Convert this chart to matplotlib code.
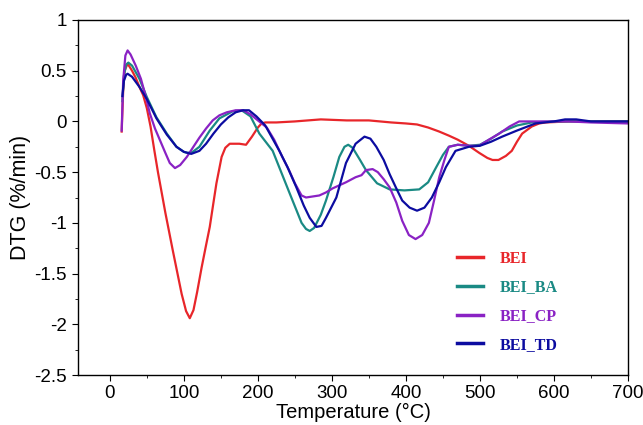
import matplotlib
matplotlib.use("Agg")
import matplotlib.pyplot as plt
from matplotlib.ticker import MultipleLocator

# ---- data ----
bei_T = [16, 18, 20, 24, 30, 35, 40, 45, 50, 55, 60, 65, 75, 85, 97, 103, 108, 113, 118, 124, 130, 135,
         140, 144, 151, 156, 162, 175, 184, 192, 200, 205, 210, 225, 250, 285, 320, 350, 380, 400, 415,
         430, 445, 458, 470, 485, 499, 510, 517, 525, 535, 543, 550, 557, 570, 580, 589, 620, 700]
bei_v = [-0.1, 0.3, 0.5, 0.57, 0.5, 0.43, 0.34, 0.26, 0.13, -0.05, -0.28, -0.5, -0.9, -1.27, -1.70, -1.87,
         -1.94, -1.86, -1.68, -1.44, -1.22, -1.04, -0.8, -0.61, -0.35, -0.26, -0.22, -0.22, -0.23, -0.15,
         -0.06, -0.02, -0.01, -0.01, 0.0, 0.02, 0.01, 0.01, -0.01, -0.02, -0.03, -0.06, -0.1, -0.14,
         -0.18, -0.24, -0.31, -0.36, -0.38, -0.38, -0.34, -0.29, -0.2, -0.12, -0.05, -0.02, -0.01, 0.0, 0.0]

ba_T = [17, 19, 22, 25, 30, 40, 50, 63, 77, 90, 100, 105, 112, 121, 135, 148, 166, 178, 190, 202, 220,
        243, 259, 265, 270, 276, 285, 292, 302, 310, 317, 322, 328, 338, 346, 361, 378, 398, 418, 430,
        441, 450, 458, 470, 485, 500, 515, 530, 550, 570, 600, 650, 700]
ba_v = [0.2, 0.45, 0.56, 0.58, 0.55, 0.42, 0.24, 0.04, -0.12, -0.25, -0.30, -0.31, -0.30, -0.25, -0.09,
        0.03, 0.10, 0.11, 0.05, -0.12, -0.29, -0.71, -1.0, -1.06, -1.08, -1.05, -0.92, -0.78, -0.55, -0.35,
        -0.25, -0.23, -0.26, -0.38, -0.48, -0.61, -0.67, -0.68, -0.67, -0.6, -0.45, -0.33, -0.25, -0.23,
        -0.24, -0.23, -0.17, -0.1, -0.04, -0.01, 0.0, 0.0, 0.0]

cp_T = [16, 18, 21, 24, 28, 35, 42, 48, 54, 61, 68, 75, 81, 88, 95, 104, 112, 121, 130, 139, 148, 158,
        170, 180, 190, 200, 212, 222, 233, 242, 250, 259, 265, 274, 283, 292, 301, 310, 319, 332, 340,
        346, 355, 362, 370, 378, 387, 395, 404, 413, 422, 431, 438, 445, 452, 458, 470, 485, 499, 512,
        526, 540, 553, 575, 620, 650, 700]
cp_v = [-0.09, 0.4, 0.65, 0.70, 0.66, 0.55, 0.42, 0.26, 0.08, -0.07, -0.19, -0.31, -0.41, -0.46, -0.43,
        -0.35, -0.26, -0.16, -0.07, 0.01, 0.06, 0.09, 0.11, 0.11, 0.07, 0.01, -0.06, -0.18, -0.35, -0.48,
        -0.61, -0.73, -0.75, -0.74, -0.73, -0.70, -0.66, -0.63, -0.60, -0.55, -0.53, -0.48, -0.47, -0.5,
        -0.57, -0.65, -0.8, -0.98, -1.12, -1.16, -1.12, -1.0, -0.78, -0.55, -0.38, -0.25, -0.23, -0.24,
        -0.24, -0.18, -0.12, -0.05, 0.0, 0.0, 0.0, -0.01, -0.02]

td_T = [17, 19, 22, 24, 30, 40, 50, 63, 77, 90, 100, 110, 121, 130, 140, 150, 160, 170, 180, 188, 198,
        210, 229, 240, 252, 262, 270, 279, 286, 292, 306, 319, 332, 344, 352, 360, 370, 378, 387, 395,
        405, 415, 425, 435, 445, 454, 467, 485, 500, 515, 530, 550, 575, 600, 615, 630, 650, 700]
td_v = [0.25, 0.4, 0.46, 0.47, 0.44, 0.34, 0.22, 0.03, -0.13, -0.25, -0.30, -0.32, -0.29, -0.22, -0.12,
        -0.03, 0.04, 0.09, 0.11, 0.11, 0.05, -0.04, -0.29, -0.45, -0.65, -0.83, -0.95, -1.04, -1.03, -0.95,
        -0.75, -0.41, -0.22, -0.15, -0.17, -0.25, -0.38, -0.52, -0.66, -0.78, -0.85, -0.88, -0.85, -0.75,
        -0.6, -0.45, -0.29, -0.25, -0.24, -0.2, -0.15, -0.09, -0.02, 0.0, 0.02, 0.02, 0.0, 0.0]

labels = ["BEI", "BEI_BA", "BEI_CP", "BEI_TD"]
colors = ["#e8262a", "#1a8a84", "#8a22c4", "#0c0ca0"]

# ---- figure ----
plt.rcParams['font.family'] = ['Liberation Sans', 'DejaVu Sans']
fig = plt.figure(figsize=(6.43, 4.25), dpi=100)
ax = fig.add_axes([78 / 643, 1 - 375 / 425, 550 / 643, 355 / 425])

series = [(bei_T, bei_v), (ba_T, ba_v), (cp_T, cp_v), (td_T, td_v)]
for (T, v), lab, c in zip(series, labels, colors):
    ax.plot(T, v, color=c, lw=1.6, label=lab)

ax.set_xlim(-43, 700)
ax.set_ylim(-2.5, 1)
ax.set_xticks(range(0, 701, 100))
ax.set_yticks([1, 0.5, 0, -0.5, -1, -1.5, -2, -2.5])
ax.set_yticklabels(["1", "0.5", "0", "-0.5", "-1", "-1.5", "-2", "-2.5"])
ax.xaxis.set_minor_locator(MultipleLocator(50))
ax.yaxis.set_minor_locator(MultipleLocator(0.25))
ax.tick_params(which='major', direction='out', length=4, width=0.8, labelsize=13.5)
ax.tick_params(axis='y', which='major', pad=4)
ax.tick_params(which='minor', direction='out', length=2.5, width=0.6)
for s in ax.spines.values():
    s.set_linewidth(1.0)

ax.set_xlabel("Temperature (°C)", fontsize=14.5, labelpad=0.5)
ax.set_ylabel("DTG (%/min)", fontsize=15.5, labelpad=2)

leg = ax.legend(loc='upper left', bbox_to_anchor=(0.69, 0.35), frameon=False,
                prop={'family': 'Liberation Serif', 'weight': 'bold', 'size': 11.5},
                labelcolor='linecolor', handlelength=1.6, handletextpad=1.05,
                labelspacing=0.8, borderaxespad=0, borderpad=0)
for h in leg.get_lines():
    h.set_linewidth(2.5)

fig.savefig("out.png", dpi=100)
